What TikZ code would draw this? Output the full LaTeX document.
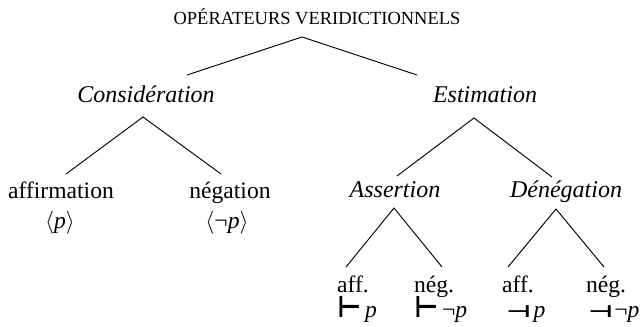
\documentclass[tikz,border=0pt]{standalone}
\usepackage{fontspec}
\usepackage{graphicx}
\setmainfont{Liberation Serif}
\newfontfamily\symfont{DejaVu Sans}
\newcommand{\assr}{\scalebox{1.4}[1.6]{\symfont\bfseries ⊢}}
\newcommand{\deng}{\scalebox{1.45}[0.9]{\symfont\bfseries ⊣}}

\begin{document}
\begin{tikzpicture}[x=0.75pt,y=-0.75pt,
  lbl/.style={anchor=base,inner sep=0pt,font=\fontsize{17.7}{20}\selectfont},
  cat/.style={anchor=base,inner sep=0pt,font=\fontsize{18}{20}\selectfont\itshape},
  tsym/.style={anchor=base west,inner sep=0pt,font=\fontsize{14}{16}\selectfont},
  branch/.style={line width=0.7pt}]
\useasboundingbox (0,0) rectangle (642,327);
% titre et premier niveau
\node[lbl,font=\fontsize{13.85}{16}\selectfont] (opv) at (317,25) {OPÉRATEURS VERIDICTIONNELS};
\node[cat] (cons) at (146,103) {Considération};
\node[cat] (esti) at (485,103) {Estimation};
\coordinate (opvA) at (302,37); \coordinate (consT) at (187,75); \coordinate (estiT) at (417,75);
\draw[branch] (consT)--(opvA)--(estiT);
% considération
\node[lbl] (affi) at (61,199) {affirmation};
\node[lbl] (nega) at (230,199) {négation};
\node[lbl] (pA) at (60,229) {$\langle$\textit{p}$\rangle$};
\node[lbl] (pN) at (227,229) {$\langle$¬\textit{p}$\rangle$};
\coordinate (consA) at (143,117); \coordinate (affiT) at (66,174); \coordinate (negaT) at (221,174);
\draw[branch] (affiT)--(consA)--(negaT);
% estimation
\node[cat] (asse) at (395,198) {Assertion};
\node[cat] (dene) at (566,198) {Dénégation};
\coordinate (estiA) at (474,118); \coordinate (asseT) at (397,176); \coordinate (deneT) at (552,177);
\draw[branch] (asseT)--(estiA)--(deneT);
% assertion / dénégation
\node[lbl] (affA) at (353,293) {aff.};
\node[lbl] (negA) at (434,293) {nég.};
\node[lbl] (affD) at (518,293) {aff.};
\node[lbl] (negD) at (606,293) {nég.};
\coordinate (asseA) at (394,208); \coordinate (affAT) at (346,267); \coordinate (negAT) at (442,267);
\draw[branch] (affAT)--(asseA)--(negAT);
\coordinate (deneA) at (556,209); \coordinate (affDT) at (508,267); \coordinate (negDT) at (604,267);
\draw[branch] (affDT)--(deneA)--(negDT);
\node[tsym] (sAA) at (337,318) {\assr\kern3pt{\fontsize{17.7}{20}\selectfont\textit{p}}};
\node[tsym] (sNA) at (414,318) {\assr\kern3pt{\fontsize{17.7}{20}\selectfont ¬\textit{p}}};
\node[tsym] (sAD) at (506,318) {\deng\kern2pt{\fontsize{17.7}{20}\selectfont\textit{p}}};
\node[tsym] (sND) at (588,318) {\deng\kern1pt{\fontsize{17.7}{20}\selectfont ¬\textit{p}}};
\end{tikzpicture}
\end{document}
